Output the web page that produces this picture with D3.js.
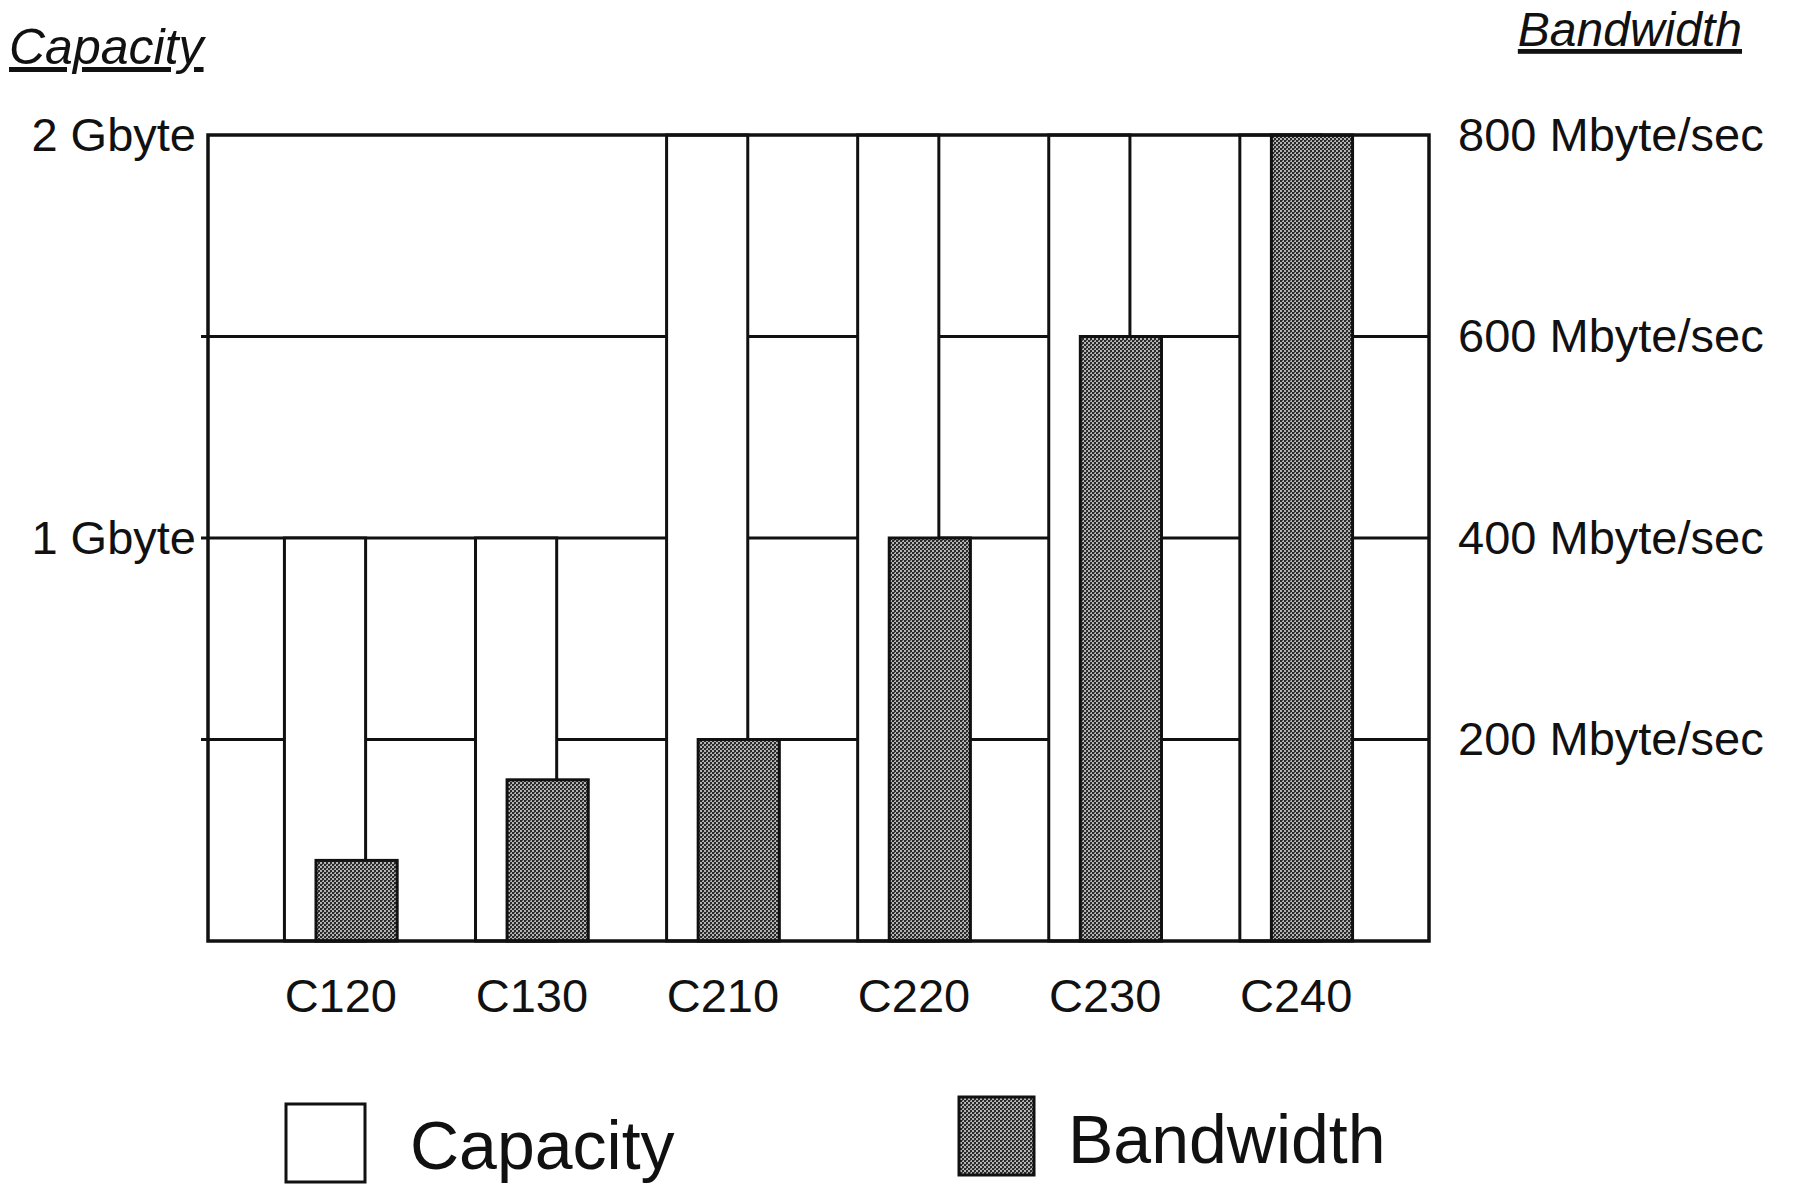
<!DOCTYPE html>
<html>
<head>
<meta charset="utf-8">
<script src="https://cdn.jsdelivr.net/npm/d3@7"></script>
<style>
  html, body { margin: 0; padding: 0; background: #fff; }
  text { font-family: "Liberation Sans", Arial, sans-serif; fill: #111; }
</style>
</head>
<body>
<div id="graph"></div>
<script>
const categories = ["C120", "C130", "C210", "C220", "C230", "C240"];
const capacityGB = [1, 1, 2, 2, 2, 2];
const bandwidthMBs = [80, 160, 200, 400, 600, 800];
const capGridTicks = [0.5, 1, 1.5];
const capLabelTicks = [1, 2];
const bwLabelTicks = [200, 400, 600, 800];

const width = 1806;
const height = 1185;
const plot = { left: 208, right: 1429, top: 135, bottom: 941 };

const svg = d3
  .select("#graph")
  .append("svg")
  .attr("width", width)
  .attr("height", height);

// stippled grey fill like the printed halftone
const defs = svg.append("defs");
const pat = defs
  .append("pattern")
  .attr("id", "stipple")
  .attr("width", 4)
  .attr("height", 4)
  .attr("patternUnits", "userSpaceOnUse");
pat.append("rect").attr("width", 4).attr("height", 4).attr("fill", "#b4b4b4");
pat.append("rect").attr("x", 0).attr("y", 0).attr("width", 2).attr("height", 2).attr("fill", "#2a2a2a");
pat.append("rect").attr("x", 2).attr("y", 2).attr("width", 2).attr("height", 2).attr("fill", "#2a2a2a");
pat.append("rect").attr("x", 2).attr("y", 0).attr("width", 1).attr("height", 1).attr("fill", "#555");

let x = d3
  .scaleBand()
  .domain(categories)
  .range([plot.left, plot.right])
  .paddingInner(0.41)
  .paddingOuter(0.4);

let yCap = d3.scaleLinear().domain([0, 2]).range([plot.bottom, plot.top]);
let yBw = d3.scaleLinear().domain([0, 800]).range([plot.bottom, plot.top]);

// grid lines (covered by the white capacity bars)
svg
  .append("g")
  .selectAll("line")
  .data(capGridTicks)
  .enter()
  .append("line")
  .attr("x1", plot.left - 7)
  .attr("x2", plot.right)
  .attr("y1", (d) => yCap(d))
  .attr("y2", (d) => yCap(d))
  .attr("stroke", "#111")
  .attr("stroke-width", 3);

const capW = 0.72;
const bwOff = 0.28;

// capacity bars
svg
  .append("g")
  .selectAll("rect")
  .data(categories)
  .enter()
  .append("rect")
  .attr("x", (d) => x(d))
  .attr("y", (d, i) => yCap(capacityGB[i]))
  .attr("width", x.bandwidth() * capW)
  .attr("height", (d, i) => plot.bottom - yCap(capacityGB[i]))
  .attr("fill", "#fff")
  .attr("stroke", "#111")
  .attr("stroke-width", 3);

// bandwidth bars
svg
  .append("g")
  .selectAll("rect")
  .data(categories)
  .enter()
  .append("rect")
  .attr("x", (d) => x(d) + x.bandwidth() * bwOff)
  .attr("y", (d, i) => yBw(bandwidthMBs[i]))
  .attr("width", x.bandwidth() * (1 - bwOff))
  .attr("height", (d, i) => plot.bottom - yBw(bandwidthMBs[i]))
  .attr("fill", "url(#stipple)")
  .attr("stroke", "#111")
  .attr("stroke-width", 3);

// frame
svg
  .append("rect")
  .attr("x", plot.left)
  .attr("y", plot.top)
  .attr("width", plot.right - plot.left)
  .attr("height", plot.bottom - plot.top)
  .attr("fill", "none")
  .attr("stroke", "#111")
  .attr("stroke-width", 3.5);

// axes
let leftAxis = d3
  .axisLeft(yCap)
  .tickValues(capLabelTicks)
  .tickSize(0)
  .tickPadding(12)
  .tickFormat((d) => d + " Gbyte");

svg
  .append("g")
  .attr("transform", `translate(${plot.left},0)`)
  .call(leftAxis)
  .call((g) => g.select(".domain").remove())
  .selectAll("text")
  .style("font-family", '"Liberation Sans", Arial, sans-serif')
  .style("font-size", "47px")
  .attr("fill", "#111");

let rightAxis = d3
  .axisRight(yBw)
  .tickValues(bwLabelTicks)
  .tickSize(0)
  .tickPadding(29)
  .tickFormat((d) => d + " Mbyte/sec");

svg
  .append("g")
  .attr("transform", `translate(${plot.right},0)`)
  .call(rightAxis)
  .call((g) => g.select(".domain").remove())
  .selectAll("text")
  .style("font-family", '"Liberation Sans", Arial, sans-serif')
  .style("font-size", "47px")
  .attr("fill", "#111");

let bottomAxis = d3.axisBottom(x).tickSize(0).tickPadding(38);

svg
  .append("g")
  .attr("transform", `translate(0,${plot.bottom})`)
  .call(bottomAxis)
  .call((g) => g.select(".domain").remove())
  .selectAll("text")
  .style("font-family", '"Liberation Sans", Arial, sans-serif')
  .style("font-size", "47px")
  .attr("fill", "#111");

// axis titles
svg
  .append("text")
  .attr("x", 9)
  .attr("y", 64)
  .style("font-size", "50px")
  .style("font-style", "italic")
  .style("text-decoration", "underline")
  .text("Capacity");

svg
  .append("text")
  .attr("x", 1742)
  .attr("y", 46)
  .attr("text-anchor", "end")
  .style("font-size", "48px")
  .style("font-style", "italic")
  .style("text-decoration", "underline")
  .text("Bandwidth");

// legend
const legend = [
  { name: "Capacity", fill: "#fff", bx: 286, by: 1104, bw: 79, bh: 78, tx: 410, ty: 1169 },
  { name: "Bandwidth", fill: "url(#stipple)", bx: 959, by: 1097, bw: 75, bh: 78, tx: 1068, ty: 1163 },
];

const legendEntries = svg
  .append("g")
  .selectAll("g")
  .data(legend)
  .enter()
  .append("g");

legendEntries
  .append("rect")
  .attr("x", (d) => d.bx)
  .attr("y", (d) => d.by)
  .attr("width", (d) => d.bw)
  .attr("height", (d) => d.bh)
  .attr("fill", (d) => d.fill)
  .attr("stroke", "#111")
  .attr("stroke-width", 3);

legendEntries
  .append("text")
  .attr("x", (d) => d.tx)
  .attr("y", (d) => d.ty)
  .style("font-size", "68px")
  .text((d) => d.name);
</script>
</body>
</html>
